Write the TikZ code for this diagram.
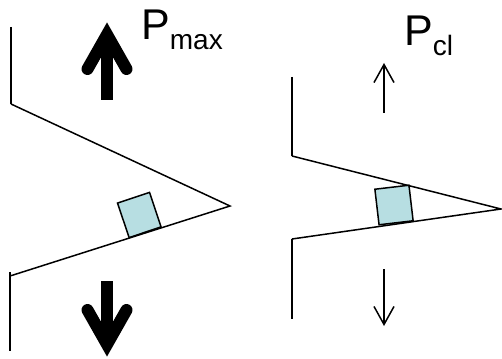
\documentclass[tikz,border=0pt]{standalone}
\usepackage{fontspec}
\setmainfont{Liberation Sans}
\definecolor{padblue}{RGB}{183,222,226}
\usetikzlibrary{arrows.meta}
\tikzset{
  wall/.style={line width=1.8pt},
  slope/.style={line width=1.5pt},
  padbox/.style={draw, line width=1.5pt, fill=padblue, inner sep=0pt},
  fatshaft/.style={line width=12pt},
  fathead/.style={line width=12pt, line cap=round, miter limit=10},
  thinarrow/.style={-{Straight Barb[length=18pt, width=20pt, line width=1.5pt]}, line width=1.4pt},
  biglabel/.style={anchor=base west, inner sep=0pt, font=\fontsize{43}{43}\selectfont}
}
\newcommand{\lowtext}[1]{\raisebox{-10pt}{\fontsize{28}{28}\selectfont #1}}

\begin{document}
\begin{tikzpicture}[x=1pt, y=-1pt]
  \useasboundingbox (0,0) rectangle (502,358);
  % left gap, wide open
  \coordinate (lw1) at (11,27);
  \coordinate (lw2) at (11,104);
  \coordinate (lapex) at (230,206);
  \coordinate (lw3) at (10,276);
  \coordinate (lw4) at (10,351);
  \node[padbox, minimum width=33.7pt, minimum height=36.4pt, rotate=18.5] (lbox) at (139.3,215) {};
  \draw[wall] (lw1) -- (lw2);
  \draw[slope] (lw2) -- (lapex) -- (lw3);
  \draw[wall] (10,272) -- (lw4);
  % fat arrows
  \coordinate (us) at (107,100);
  \coordinate (ua) at (107,34.6);
  \draw[fatshaft] (us) -- (ua);
  \draw[fathead] (87.5,69) -- (ua) -- (126.5,69);
  \coordinate (ds) at (107,281);
  \coordinate (da) at (107,344.4);
  \draw[fatshaft] (ds) -- (da);
  \draw[fathead] (87.5,310) -- (da) -- (126.5,310);
  \node[biglabel] (pmax) at (141,40) {P\lowtext{max}};
  % right gap, nearly shut
  \coordinate (rw1) at (292,77);
  \coordinate (rw2) at (292,156);
  \coordinate (rapex) at (501,209);
  \coordinate (rw3) at (292,239);
  \coordinate (rw4) at (292,319);
  \node[padbox, minimum width=34.3pt, minimum height=35.8pt, rotate=6.7] (rbox) at (394,205) {};
  \draw[wall] (rw1) -- (rw2);
  \draw[slope] (rw2) -- (rapex) -- (rw3);
  \draw[wall] (rw3) -- (rw4);
  \coordinate (ru1) at (384,113);
  \coordinate (ru2) at (384,63);
  \draw[thinarrow] (ru1) -- (ru2);
  \coordinate (rd1) at (384,269);
  \coordinate (rd2) at (384,326);
  \draw[thinarrow] (rd1) -- (rd2);
  \node[biglabel] (pcl) at (404,46) {P\lowtext{cl}};
\end{tikzpicture}
\end{document}
